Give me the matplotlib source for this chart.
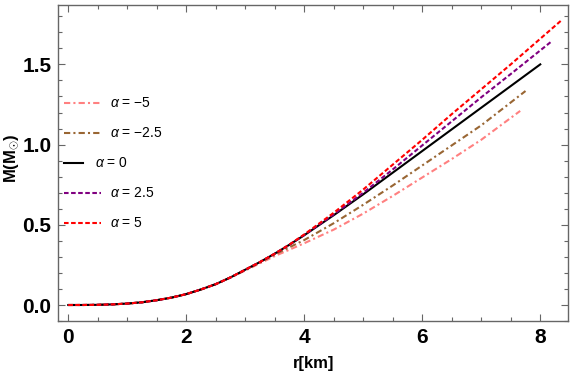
import matplotlib
matplotlib.use("Agg")
from matplotlib import pyplot as plt
from matplotlib.ticker import MultipleLocator, FormatStrFormatter

plt.rcParams['font.family'] = ['Liberation Sans', 'DejaVu Sans']
plt.rcParams['mathtext.fontset'] = 'custom'
plt.rcParams['mathtext.it'] = 'Liberation Sans:italic'
plt.rcParams['mathtext.rm'] = 'Liberation Sans'
plt.rcParams['mathtext.bf'] = 'Liberation Sans:bold'

# r [km] and M [Msun]
r_low = [0, 0.25, 0.5, 0.75, 1, 1.25, 1.5, 1.75, 2, 2.25, 2.5, 2.75, 3]
M_low = [0, 0.0001, 0.001, 0.004, 0.009, 0.017, 0.03, 0.046, 0.068, 0.097, 0.13, 0.172, 0.22]

r_m5 = r_low + [3.25, 3.5, 3.75, 4, 4.5, 5, 5.5, 6, 6.5, 7, 7.66]
M_m5 = M_low[:-1] + [0.215, 0.26, 0.305, 0.345, 0.385, 0.47, 0.57, 0.68, 0.795, 0.91, 1.03, 1.21]

r_m25 = r_low + [3.25, 3.5, 3.75, 4, 4.5, 5, 5.5, 6, 6.5, 7, 7.75]
M_m25 = M_low[:-1] + [0.218, 0.266, 0.315, 0.36, 0.405, 0.51, 0.625, 0.745, 0.87, 0.995, 1.12, 1.334]

r_0 = r_low + [3.25, 3.5, 3.75, 4, 4.5, 5, 5.5, 6, 6.5, 7, 7.5, 8.0]
M_0 = M_low + [0.268, 0.32, 0.376, 0.435, 0.56, 0.69, 0.825, 0.96, 1.095, 1.23, 1.365, 1.50]

r_p25 = r_low + [3.25, 3.5, 3.75, 4, 4.5, 5, 5.5, 6, 6.5, 7, 7.5, 8.18]
M_p25 = M_low + [0.268, 0.32, 0.376, 0.437, 0.565, 0.70, 0.845, 0.995, 1.145, 1.295, 1.44, 1.64]

r_p5 = r_low + [3.25, 3.5, 3.75, 4, 4.5, 5, 5.5, 6, 6.5, 7, 7.5, 8.36]
M_p5 = M_low + [0.268, 0.32, 0.377, 0.44, 0.575, 0.72, 0.875, 1.03, 1.19, 1.345, 1.50, 1.775]

labels = [r'$\alpha$ = −5', r'$\alpha$ = −2.5', r'$\alpha$ = 0', r'$\alpha$ = 2.5', r'$\alpha$ = 5']

pink = (1.0, 0.5, 0.5)
brown = (0.6, 0.4, 0.2)
purple = (0.5, 0.0, 0.5)
red = (1.0, 0.0, 0.0)

fig = plt.figure(figsize=(5.76, 3.74), dpi=100)
ax = fig.add_axes([0.1012, 0.1409, 0.8854, 0.8465])

dashdot = (0, (3, 1.5, 1, 1.5))
dashed = (0, (2.2, 1.2))

ax.plot(r_m5, M_m5, color=pink, lw=1.5, ls=dashdot)
ax.plot(r_m25, M_m25, color=brown, lw=1.5, ls=dashdot)
ax.plot(r_0, M_0, color='black', lw=1.5, ls='-')
ax.plot(r_p25, M_p25, color=purple, lw=1.5, ls=dashed)
ax.plot(r_p5, M_p5, color=red, lw=1.5, ls=dashed)

ax.set_xlim(-0.169, 8.475)
ax.set_ylim(-0.1016, 1.872)

ax.xaxis.set_major_locator(MultipleLocator(2))
ax.xaxis.set_minor_locator(MultipleLocator(0.5))
ax.yaxis.set_major_locator(MultipleLocator(0.5))
ax.yaxis.set_minor_locator(MultipleLocator(0.1))
ax.yaxis.set_major_formatter(FormatStrFormatter('%.1f'))

ax.tick_params(which='both', direction='in', top=True, right=True,
               color='#666666', width=0.8)
ax.tick_params(which='major', length=5, labelsize=15, pad=5)
ax.tick_params(which='minor', length=3)
for lab in ax.get_xticklabels() + ax.get_yticklabels():
    lab.set_fontweight('bold')
for s in ax.spines.values():
    s.set_color('#666666')
    s.set_linewidth(1.0)

ax.set_xlabel('r[km]', fontsize=12, fontweight='bold', labelpad=6)
ax.set_ylabel(r'M(M$_{\odot}$)', fontsize=12, fontweight='bold', va='center')
ax.yaxis.set_label_coords(-0.092, 0.514)

# manual legend, Mathematica style
styles = [(pink, dashdot, 0.072), (brown, dashdot, 0.072), ('black', '-', 0.037),
          (purple, dashed, 0.072), (red, dashed, 0.072)]
ys = [0.689, 0.596, 0.501, 0.404, 0.310]
for (c, ls, w), y, lab in zip(styles, ys, labels):
    x0 = 0.011
    ax.plot([x0, x0 + w], [y, y], color=c, ls=ls, lw=1.5, transform=ax.transAxes)
    ax.text(x0 + w + 0.018 + (0.006 if w < 0.05 else 0), y, lab,
            transform=ax.transAxes, fontsize=10, va='center', ha='left')

fig.savefig('out.png', dpi=100)
